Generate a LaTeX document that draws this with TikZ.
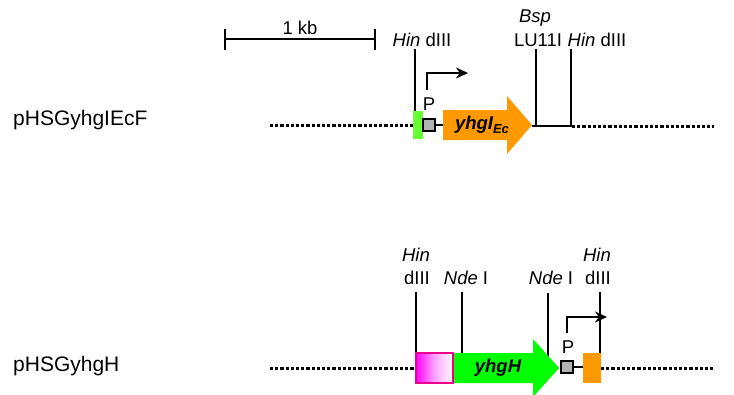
\documentclass[tikz,border=0pt]{standalone}
\usepackage{fontspec}
\setmainfont{Liberation Sans}
\usetikzlibrary{arrows.meta}
\definecolor{geneorange}{HTML}{FF9900}
\definecolor{genegreen}{HTML}{00FF00}
\definecolor{boxgreen}{HTML}{66FF33}
\definecolor{promgray}{HTML}{B2B2B2}
\begin{document}
\begin{tikzpicture}[x=1pt,y=-1pt,
  backbone/.style={line width=3pt, dash pattern=on 3.2pt off 2pt},
  site/.style={line width=2.3pt},
  lbl/.style={font=\fontsize{18.5}{20}\selectfont, inner sep=0pt},
  plname/.style={font=\fontsize{21}{24}\selectfont, inner sep=0pt, anchor=west},
  prom/.style={fill=promgray, draw=black, line width=1.4pt, minimum size=12pt, inner sep=0pt},
  tss/.style={line width=1.9pt, -{Stealth[length=12pt,width=11pt]}},
  genelbl/.style={font=\fontsize{18.5}{20}\selectfont\bfseries\itshape, inner sep=0pt},
  blockbox/.style={minimum height=30pt, inner sep=0pt}]
\path[use as bounding box] (0,0) rectangle (734,394);

% ---------- scale bar ----------
\coordinate (sbL) at (225,39);
\coordinate (sbR) at (375,39);
\draw[line width=2.4pt] (sbL) -- (sbR);
\draw[line width=2.4pt] (225,29) -- (225,50);
\draw[line width=2.4pt] (375,29) -- (375,50);
\node[lbl] (kb) at (300,28) {1 kb};

% ---------- pHSGyhgIEcF ----------
\node[plname] (nameA) at (13,120) {pHSGyhgIEcF};
\coordinate (aL) at (270,125);
\coordinate (aBoxL) at (413,125);
\coordinate (aJ) at (532,126);
\coordinate (aR) at (572,126);
\coordinate (aRend) at (714,126);
\draw[backbone] (aL) -- (aBoxL);
\draw[backbone] (aR) -- (aRend);

% restriction sites
\node[lbl] (hA1) at (422,40) {\textit{Hin} dIII};
\node[lbl] (bspA) at (535,18) {\textit{Bsp}};
\node[lbl] (luA) at (538,40) {LU11I};
\node[lbl] (hA2) at (597,40) {\textit{Hin} dIII};
\coordinate (hA1t) at (415,49);  \coordinate (hA1b) at (415,125);
\coordinate (bspt) at (536,49);  \coordinate (bspb) at (536,126);
\coordinate (hA2t) at (571,49);  \coordinate (hA2b) at (571,126);
\draw[site] (hA1t) -- (hA1b);
\draw[site] (bspt) -- (bspb);
\draw[site] (hA2t) -- (hA2b);
\draw[site] (aJ) -- (aR);

% green block, promoter, gene
\node[fill=boxgreen, minimum width=10pt, minimum height=28pt, inner sep=0pt] (gboxA) at (418,125) {};
\coordinate (geneAL) at (443,125);
\node[prom] (pA) at (429,125) {};
\draw[line width=1.8pt] (pA.east) -- (geneAL);
\fill[geneorange] (443,110) -- (507,110) -- (507,96) -- (532,125) -- (507,154) -- (507,140) -- (443,140) -- cycle;
\node[genelbl] (geneA) at (482,125) {yhgI\raisebox{-0.45ex}{\fontsize{13}{14}\selectfont Ec}};
\node[lbl] (PA) at (429,104) {P};
\coordinate (tssA0) at (427,90);
\coordinate (tssA1) at (468,73);
\draw[tss] (tssA0) |- (tssA1);

% ---------- pHSGyhgH ----------
\node[plname] (nameB) at (13,366) {pHSGyhgH};
\coordinate (bL) at (270,368);
\coordinate (bBoxL) at (415,368);
\coordinate (bOr) at (601,368);
\coordinate (bRend) at (714,368);
\draw[backbone] (bL) -- (bBoxL);
\draw[backbone] (bOr) -- (bRend);

% restriction sites
\node[lbl] (hB1a) at (416,255) {\textit{Hin}};
\node[lbl] (hB1b) at (417,278) {dIII};
\node[lbl] (ndeB1) at (466,278) {\textit{Nde} I};
\node[lbl] (ndeB2) at (551,278) {\textit{Nde} I};
\node[lbl] (hB2a) at (597,255) {\textit{Hin}};
\node[lbl] (hB2b) at (598,278) {dIII};
\coordinate (hB1t) at (416,292);  \coordinate (hB1bot) at (416,353);
\coordinate (nB1t) at (462,292);  \coordinate (nB1bot) at (462,353);
\coordinate (nB2t) at (548,293);  \coordinate (nB2bot) at (548,357);
\coordinate (hB2t) at (600,292);  \coordinate (hB2bot) at (600,360);
\draw[site] (hB1t) -- (hB1bot);
\draw[site] (nB1t) -- (nB1bot);
\draw[site] (nB2t) -- (nB2bot);
\draw[site] (hB2t) -- (hB2bot);

% gene, magenta block, promoter, orange block
\fill[genegreen] (453,353) -- (533,353) -- (533,339) -- (559,368) -- (533,397) -- (533,383) -- (453,383) -- cycle;
\node[blockbox, minimum width=37pt, draw=magenta, line width=1.5pt, left color=magenta, right color=white, middle color=magenta!35!white] (magB) at (434.5,368) {};
\node[genelbl] (geneB) at (498,368) {yhgH};
\node[prom] (pB) at (567,367) {};
\node[blockbox, minimum width=18pt, fill=geneorange] (orB) at (592,368) {};
\draw[line width=1.8pt] (pB.east) -- (orB.west |- pB.east);
\node[lbl] (PB) at (568,347) {P};
\coordinate (tssB0) at (567,333);
\coordinate (tssB1) at (607,317);
\draw[tss] (tssB0) |- (tssB1);
\end{tikzpicture}
\end{document}
